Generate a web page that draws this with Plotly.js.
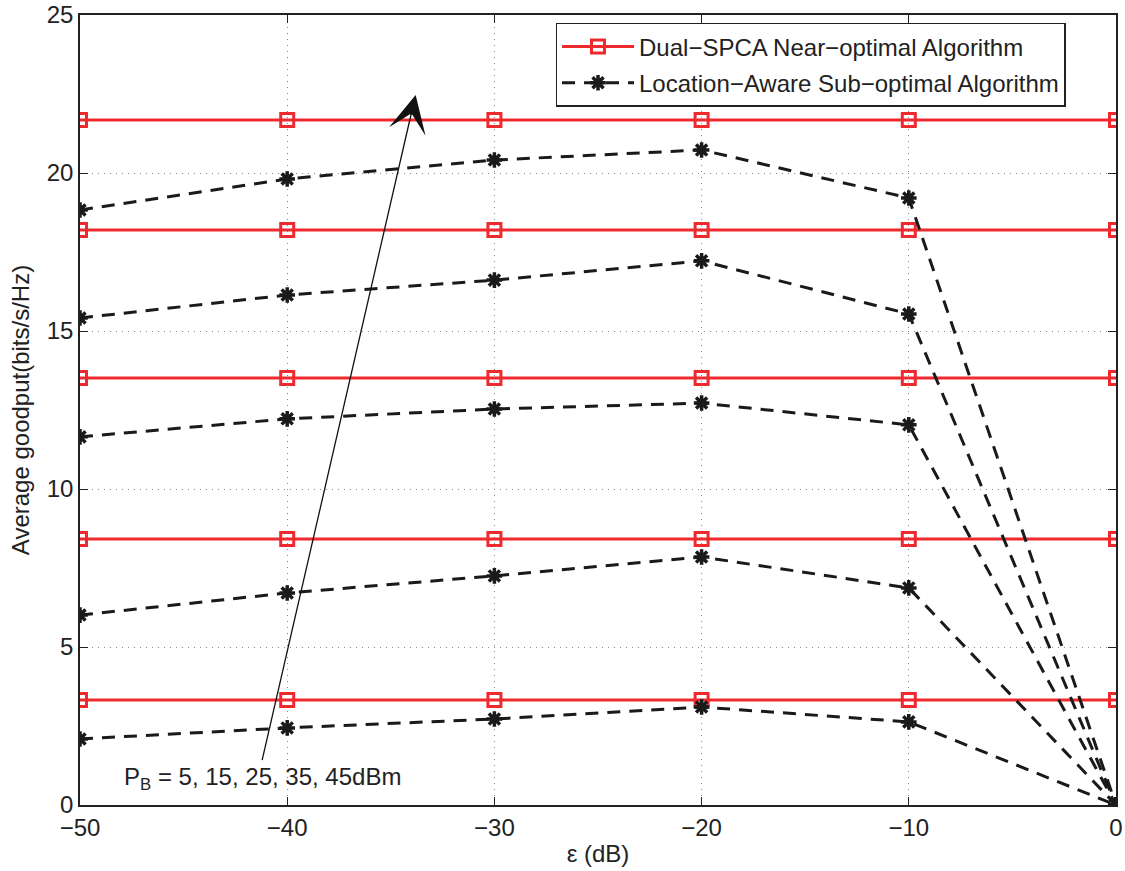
<!DOCTYPE html>
<html>
<head>
<meta charset="utf-8">
<script src="https://cdn.plot.ly/plotly-3.0.1.min.js"></script>
<style>html,body{margin:0;padding:0;background:#fff;}#chart{width:1125px;height:871px;}</style>
</head>
<body>
<div id="chart"></div>
<script>
const epsilon = [-50, -40, -30, -20, -10, 0];
const epsilonTicks = ['\u221250', '\u221240', '\u221230', '\u221220', '\u221210', '0'];
const powerLabels = ["5 dBm", "15 dBm", "25 dBm", "35 dBm", "45 dBm"];
const dualSPCA = [3.32, 8.42, 13.51, 18.2, 21.68];
const locAware_5 = [2.09, 2.44, 2.72, 3.10, 2.63, 0];
const locAware_15 = [6.01, 6.71, 7.25, 7.85, 6.87, 0];
const locAware_25 = [11.65, 12.22, 12.53, 12.72, 12.03, 0];
const locAware_35 = [15.41, 16.14, 16.61, 17.22, 15.54, 0];
const locAware_45 = [18.83, 19.81, 20.41, 20.73, 19.21, 0];
const locAware = [locAware_5, locAware_15, locAware_25, locAware_35, locAware_45];

const traces = [];
dualSPCA.forEach((v, i) => {
  traces.push({
    x: epsilon, y: epsilon.map(() => v), type: 'scatter', mode: 'lines+markers',
    name: 'Dual\u2212SPCA Near\u2212optimal Algorithm', legendgroup: 'dual', showlegend: i === 0,
    line: {color: '#ee2a2e', width: 3},
    marker: {symbol: 'square-open', size: 13, color: '#ee2a2e', line: {width: 3, color: '#ee2a2e'}},
    hovertext: powerLabels[i]
  });
});
locAware.forEach((arr, i) => {
  traces.push({
    x: epsilon, y: arr, type: 'scatter', mode: 'lines+markers',
    name: 'Location\u2212Aware Sub\u2212optimal Algorithm', legendgroup: 'loc', showlegend: i === 0,
    line: {color: '#1a1a1a', width: 3, dash: '13px,9px'},
    marker: {symbol: 'asterisk-open', size: 13, color: '#1a1a1a', line: {width: 3.5, color: '#1a1a1a'}},
    hovertext: powerLabels[i]
  });
});

const fam = 'Liberation Sans, Arial, Helvetica, sans-serif';
const layout = {
  width: 1125, height: 871,
  margin: {l: 80, r: 9, t: 15, b: 66},
  paper_bgcolor: '#fff', plot_bgcolor: '#fff',
  font: {family: fam, color: '#222', size: 24},
  showlegend: true,
  legend: {x: 0.459, y: 0.99, xanchor: 'left', yanchor: 'top', bordercolor: '#222', borderwidth: 1.5,
           bgcolor: '#fff', font: {size: 24, family: fam, color: '#222'}, tracegroupgap: 2, itemwidth: 72},
  xaxis: {
    range: [-50, 0], tickvals: epsilon, ticktext: epsilonTicks, automargin: false,
    showgrid: true, gridcolor: '#888', griddash: '1px,5px', gridwidth: 1,
    zeroline: false, showline: true, linecolor: '#222', linewidth: 1.5, mirror: 'ticks',
    ticks: 'inside', ticklen: 8, tickcolor: '#222',
    tickfont: {size: 24}, title: {text: '\u03b5 (dB)', font: {size: 24}, standoff: 6}
  },
  yaxis: {
    range: [0, 25], dtick: 5, automargin: false,
    showgrid: true, gridcolor: '#888', griddash: '1px,5px', gridwidth: 1,
    zeroline: false, showline: true, linecolor: '#222', linewidth: 1.5, mirror: 'ticks',
    ticks: 'inside', ticklen: 8, tickcolor: '#222',
    tickfont: {size: 24}, title: {text: 'Average goodput(bits/s/Hz)', font: {size: 24}, standoff: 10}
  },
  annotations: [
    {x: -41.21, y: 1.42, ax: -33.9, ay: 22.2, xref: 'x', yref: 'y', axref: 'x', ayref: 'y',
     text: '', showarrow: true, arrowhead: 0, arrowwidth: 1.3, arrowcolor: '#111'},
    {x: -33.8, y: 22.47, ax: -34.0, ay: 21.9, xref: 'x', yref: 'y', axref: 'x', ayref: 'y',
     text: '', showarrow: true, arrowhead: 3, arrowsize: 2.4, arrowwidth: 2.6, arrowcolor: '#111'},
    {x: -47.97, y: 0.85, xref: 'x', yref: 'y', xanchor: 'left', yanchor: 'middle', showarrow: false,
     text: 'P<sub>B</sub> = 5, 15, 25, 35, 45dBm', font: {size: 24, color: '#222'}}
  ]
};
Plotly.newPlot('chart', traces, layout, {displayModeBar: false});
</script>
</body>
</html>
